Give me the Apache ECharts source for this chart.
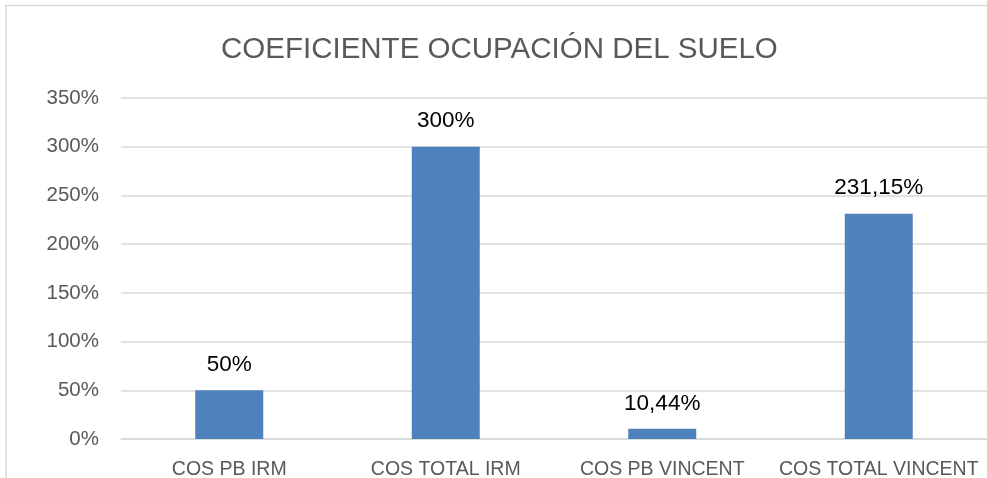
<!DOCTYPE html>
<html>
<head>
<meta charset="utf-8">
<script src="https://cdn.jsdelivr.net/npm/echarts@6/dist/echarts.min.js"></script>
<style>
  html, body { margin: 0; padding: 0; background: #fff; }
  #chart { width: 987px; height: 478px; }
</style>
</head>
<body>
<div id="chart"></div>
<script>
const categories = ['COS PB IRM', 'COS TOTAL IRM', 'COS PB VINCENT', 'COS TOTAL VINCENT']
const values = [50, 300, 10.44, 231.15]
const yTicks = [0, 50, 100, 150, 200, 250, 300, 350]

const fmt = v => String(v).replace('.', ',') + '%'
const font = '"Liberation Sans", Arial, sans-serif'

const chart = echarts.init(document.getElementById('chart'))
chart.setOption({
  animation: false,
  backgroundColor: '#fff',
  title: {
    text: 'COEFICIENTE OCUPACIÓN DEL SUELO',
    left: 216,
    top: 30,
    textStyle: { fontFamily: font, fontSize: 29.5, fontWeight: 'normal', color: '#595959' },
  },
  graphic: [
    {
      type: 'rect',
      shape: { x: 6, y: 5.5, width: 1100, height: 600 },
      style: { fill: 'none', stroke: '#d9d9d9', lineWidth: 1.5 },
      silent: true,
    },
  ],
  grid: { left: 121, right: 0, top: 98, bottom: 39, containLabel: false, outerBoundsMode: 'none' },
  xAxis: {
    type: 'category',
    data: categories,
    axisLine: { lineStyle: { color: '#d9d9d9', width: 1.5 } },
    axisTick: { show: false },
    axisLabel: { interval: 0, fontFamily: font, fontSize: 19.5, color: '#595959', margin: 21 },
  },
  yAxis: {
    type: 'value',
    min: yTicks[0],
    max: yTicks[yTicks.length - 1],
    interval: 50,
    axisLine: { show: false },
    axisTick: { show: false },
    splitLine: { lineStyle: { color: '#d9d9d9', width: 1.5 } },
    axisLabel: {
      fontFamily: font, fontSize: 20.5, color: '#595959', margin: 22,
      formatter: v => v + '%',
    },
  },
  series: [
    {
      type: 'bar',
      data: values,
      barWidth: 68,
      itemStyle: { color: '#4f81bd' },
      label: {
        show: true,
        position: 'top',
        distance: 14,
        fontFamily: font,
        fontSize: 22.5,
        color: '#000',
        formatter: p => fmt(p.value),
      },
    },
  ],
})
</script>
</body>
</html>
